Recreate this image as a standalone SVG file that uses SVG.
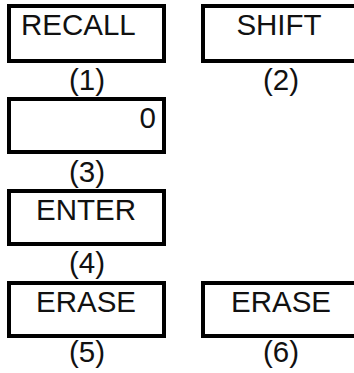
<svg xmlns="http://www.w3.org/2000/svg" width="354" height="373" viewBox="0 0 354 373">
<style>
.key{fill:#fff;stroke:#000;stroke-width:4}
.t{font-family:"Liberation Sans",Arial,sans-serif;font-size:29.5px;fill:#111}
.c{text-anchor:middle}
</style>
<rect width="354" height="373" fill="#fff"/>
<g id="node1">
<rect class="key" x="9" y="6" width="155" height="55"/>
<text class="t" x="21" y="35">RECALL</text>
<text class="t c" x="87" y="90">(1)</text>
</g>
<g id="node2">
<rect class="key" x="203" y="6" width="155" height="55"/>
<text class="t c" x="279" y="35">SHIFT</text>
<text class="t c" x="281" y="90">(2)</text>
</g>
<g id="node3">
<rect class="key" x="9" y="99" width="155" height="53"/>
<text class="t" x="156" y="128" text-anchor="end">0</text>
<text class="t c" x="87" y="182">(3)</text>
</g>
<g id="node4">
<rect class="key" x="9" y="191" width="155" height="53"/>
<text class="t c" x="86" y="220">ENTER</text>
<text class="t c" x="87" y="273">(4)</text>
</g>
<g id="node5">
<rect class="key" x="9" y="283" width="155" height="53"/>
<text class="t c" x="86" y="312">ERASE</text>
<text class="t c" x="87" y="362">(5)</text>
</g>
<g id="node6">
<rect class="key" x="203" y="283" width="155" height="53"/>
<text class="t c" x="281" y="312">ERASE</text>
<text class="t c" x="281" y="362">(6)</text>
</g>
<g id="connectors"></g>
</svg>
